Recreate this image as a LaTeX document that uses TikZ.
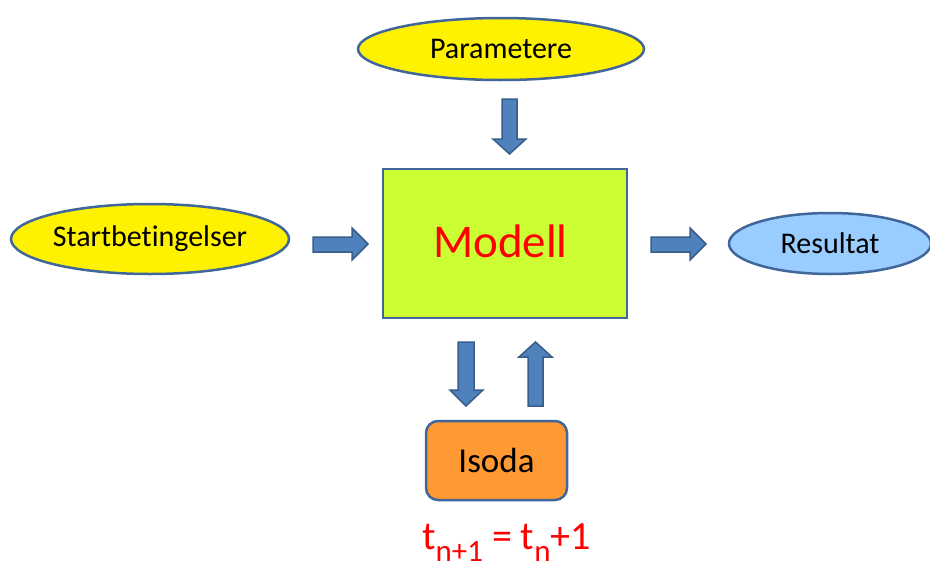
\documentclass[tikz,border=0pt]{standalone}
\usepackage{fontspec}
\setmainfont{Carlito}[Ligatures={NoCommon,NoContextual}, RawFeature={-liga;-clig;-calt;-dlig}]
\usetikzlibrary{shapes.geometric}
\definecolor{edgeblue}{HTML}{41679A}
\definecolor{arrowfill}{HTML}{4F81BD}
\definecolor{arrowedge}{HTML}{385D8A}
\definecolor{modellgreen}{HTML}{CCFF33}
\definecolor{isodaorange}{HTML}{FF9933}
\definecolor{resblue}{HTML}{99CCFF}
\tikzset{
  oval/.style={ellipse, draw=edgeblue, line width=2.5pt, inner sep=0pt, font=\fontsize{30}{30}\selectfont},
  barrow/.style={fill=arrowfill, draw=arrowedge, line width=1.5pt, line join=miter},
}
\newcommand\subtxt[1]{\raisebox{-12pt}{\fontsize{31}{31}\selectfont #1}}
\begin{document}
\begin{tikzpicture}[x=1pt,y=-1pt]
\useasboundingbox (0,0) rectangle (930,565);
% nodes
\node[oval, fill=yellow, minimum width=286pt, minimum height=62pt] (param) at (501,49) {Parametere};
\node[oval, fill=yellow, minimum width=278pt, minimum height=70pt] (start) at (150,239) {Startbet\kern0pt ingelser};
\node[oval, fill=resblue, minimum width=202pt, minimum height=61pt] (res) at (830,243.5) {Resultat};
\node[draw=edgeblue, fill=modellgreen, line width=2.5pt, minimum width=244pt, minimum height=149pt, inner sep=0pt] (modell) at (505,243.5) {};
\node[text=red, font=\fontsize{47}{47}\selectfont, inner sep=0pt, anchor=base] (modelltext) at (500.5,257) {Modell};
\node[draw=edgeblue, fill=isodaorange, line width=2.5pt, rounded corners=12pt, minimum width=141pt, minimum height=79pt, inner sep=0pt,
      font=\fontsize{35}{35}\selectfont] (isoda) at (496.5,460.5) {Isoda};
\node[text=red, font=\fontsize{40}{40}\selectfont, inner sep=0pt, anchor=base] (formula) at (506.5,549.5)
  {t\subtxt{n+1} = t\subtxt{n}+1};
% block arrows
\path[barrow] (502,99) -- (517,99) -- (517,139) -- (526,139) -- (509.5,154) -- (493,139) -- (502,139) -- cycle;
\path[barrow] (313,237) -- (352,237) -- (352,228) -- (368,244) -- (352,260) -- (352,252) -- (313,252) -- cycle;
\path[barrow] (651,237) -- (690,237) -- (690,228) -- (706,244) -- (690,260) -- (690,252) -- (651,252) -- cycle;
\path[barrow] (458,342) -- (474,342) -- (474,390) -- (483,390) -- (466,406) -- (450,390) -- (458,390) -- cycle;
\path[barrow] (528,406) -- (543,406) -- (543,357) -- (552,357) -- (535.5,342) -- (519,357) -- (528,357) -- cycle;
\end{tikzpicture}
\end{document}
